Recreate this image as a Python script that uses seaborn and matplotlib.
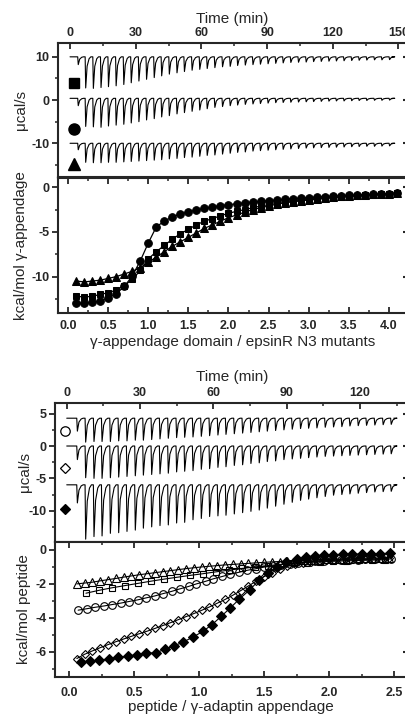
import numpy as np
import matplotlib
matplotlib.use('Agg')
import matplotlib.pyplot as plt
from matplotlib.ticker import MultipleLocator
import seaborn as sns

sns.set_style('ticks')
plt.rcParams['font.family'] = ['Liberation Sans', 'DejaVu Sans']
plt.rcParams['axes.unicode_minus'] = False

# ---------------- raw ITC traces, epsinR N3 mutants (panel A) ----------------
t_inj_a = [3.5, 6.9, 10.4, 13.9, 17.3, 20.8, 24.3, 27.7, 31.2, 34.7, 38.2, 41.6,
           45.1, 48.6, 52.0, 55.5, 59.0, 62.4, 65.9, 69.4, 72.9, 76.3, 79.8, 83.3,
           86.7, 90.2, 93.7, 97.1, 100.6, 104.1, 107.6, 111.0, 114.5, 118.0, 121.4,
           124.9, 128.4, 131.8, 135.3, 138.8, 142.2, 145.7]
t_end_a = 147.0
base_sq, base_ci, base_tr = 10.0, 0.4, -10.0
depth_sq = [1.8, 7.2, 7.3, 7.1, 6.9, 6.7, 6.4, 6.0, 5.6, 5.2, 4.8, 4.4, 4.0, 3.7,
            3.4, 3.1, 2.9, 2.7, 2.5, 2.3, 2.2, 2.0, 1.9, 1.8, 1.7, 1.6, 1.5, 1.4,
            1.3, 1.25, 1.2, 1.1, 1.05, 1.0, 0.95, 0.9, 0.85, 0.8, 0.75, 0.7, 0.7, 0.65]
depth_ci = [1.7, 6.5, 6.6, 6.7, 6.4, 6.2, 6.0, 5.7, 5.4, 5.0, 4.7, 4.3, 4.0, 3.6,
            3.3, 3.0, 2.7, 2.4, 2.1, 1.9, 1.7, 1.55, 1.4, 1.3, 1.2, 1.1, 1.0, 0.95,
            0.9, 0.85, 0.8, 0.75, 0.7, 0.65, 0.6, 0.6, 0.55, 0.5, 0.5, 0.45, 0.45, 0.4]
depth_tr = [1.5, 4.4, 4.5, 4.5, 4.4, 4.4, 4.3, 4.2, 4.1, 4.0, 3.9, 3.8, 3.6, 3.5,
            3.3, 3.2, 3.0, 2.8, 2.7, 2.5, 2.3, 2.1, 2.0, 1.8, 1.7, 1.6, 1.5, 1.4,
            1.3, 1.2, 1.1, 1.05, 1.0, 0.95, 0.9, 0.85, 0.8, 0.75, 0.7, 0.7, 0.65, 0.6]
key_t_a = 1.7
key_y_a = [3.85, -6.8, -14.8]

# ---------------- isotherms, epsinR N3 mutants (panel B) ----------------
ratio_b = [0.1, 0.2, 0.3, 0.4, 0.5, 0.6, 0.7, 0.8, 0.9, 1.0, 1.1, 1.2, 1.3, 1.4,
           1.5, 1.6, 1.7, 1.8, 1.9, 2.0, 2.1, 2.2, 2.3, 2.4, 2.5, 2.6, 2.7, 2.8,
           2.9, 3.0, 3.1, 3.2, 3.3, 3.4, 3.5, 3.6, 3.7, 3.8, 3.9, 4.0, 4.1]
dh_circle = [-13.0, -13.0, -12.9, -12.7, -12.4, -11.9, -11.1, -9.9, -8.2, -6.2,
             -4.4, -3.8, -3.3, -3.0, -2.75, -2.55, -2.35, -2.2, -2.05, -1.95, -1.85,
             -1.75, -1.65, -1.58, -1.5, -1.42, -1.35, -1.28, -1.22, -1.16, -1.1,
             -1.05, -1.0, -0.95, -0.9, -0.86, -0.82, -0.78, -0.75, -0.72, -0.68]
dh_square = [-12.2, -12.3, -12.2, -12.0, -11.8, -11.5, -11.0, -10.3, -9.3, -8.0,
             -7.2, -6.5, -5.8, -5.2, -4.7, -4.2, -3.8, -3.5, -3.2, -2.9, -2.7,
             -2.5, -2.3, -2.1, -1.95, -1.82, -1.7, -1.6, -1.5, -1.4, -1.3, -1.22,
             -1.14, -1.06, -1.0, -0.94, -0.88, -0.83, -0.78, -0.73, -0.68]
dh_triangle = [-10.5, -10.6, -10.5, -10.4, -10.2, -10.0, -9.7, -9.4, -9.0, -8.4,
               -7.8, -7.2, -6.6, -6.1, -5.6, -5.1, -4.6, -4.2, -3.8, -3.4, -3.1,
               -2.8, -2.5, -2.3, -2.1, -1.9, -1.75, -1.6, -1.5, -1.4, -1.3, -1.2,
               -1.1, -1.02, -0.96, -0.9, -0.85, -0.8, -0.75, -0.7, -0.62]

# ---------------- raw ITC traces, peptides (panel C) ----------------
t_inj_c = [4.1, 7.5, 10.9, 14.2, 17.6, 21.0, 24.4, 27.8, 31.1, 34.5, 37.9, 41.3,
           44.7, 48.0, 51.4, 54.8, 58.2, 61.6, 64.9, 68.3, 71.7, 75.1, 78.5, 81.8,
           85.2, 88.6, 92.0, 95.4, 98.7, 102.1, 105.5, 108.9, 112.3, 115.6, 119.0,
           122.4, 125.8, 129.2, 132.5]
t_end_c = 133.8
base_oc, base_od, base_fd = 4.3, 0.0, -6.0
depth_oc = [2.0, 3.7, 3.6, 3.6, 3.6, 3.5, 3.5, 3.4, 3.4, 3.3, 3.2, 3.1, 3.0, 2.95,
            2.9, 2.8, 2.7, 2.6, 2.5, 2.4, 2.3, 2.2, 2.1, 2.0, 1.9, 1.8, 1.7, 1.6,
            1.55, 1.5, 1.4, 1.35, 1.3, 1.2, 1.15, 1.1, 1.05, 1.0, 0.95]
depth_od = [2.1, 4.9, 5.0, 5.0, 4.9, 4.8, 4.7, 4.6, 4.5, 4.4, 4.3, 4.2, 4.0, 3.9,
            3.8, 3.6, 3.5, 3.3, 3.2, 3.0, 2.9, 2.7, 2.6, 2.4, 2.3, 2.1, 2.0, 1.9,
            1.8, 1.7, 1.6, 1.55, 1.5, 1.45, 1.4, 1.35, 1.3, 1.25, 1.2]
depth_fd = [2.8, 8.4, 8.0, 7.9, 7.5, 7.4, 7.2, 7.0, 6.7, 6.5, 6.3, 6.2, 5.9, 5.8,
            5.4, 5.2, 4.9, 4.8, 4.7, 4.5, 4.3, 4.1, 3.9, 3.6, 3.3, 3.0, 2.7, 2.4,
            2.2, 2.0, 1.8, 1.6, 1.5, 1.4, 1.3, 1.2, 1.1, 1.05, 1.0]
key_t_c = -0.7
key_y_c = [2.36, -3.45, -9.8]

# ---------------- isotherms, peptides (panel D) ----------------
ratio_fine = [0.06, 0.12, 0.18, 0.24, 0.30, 0.36, 0.42, 0.48, 0.54, 0.60, 0.66,
              0.72, 0.78, 0.84, 0.90, 0.96, 1.02, 1.08, 1.14, 1.20, 1.26, 1.32,
              1.38, 1.44, 1.50, 1.56, 1.62, 1.68, 1.74, 1.80, 1.86, 1.92, 1.98,
              2.04, 2.10, 2.16, 2.22, 2.28, 2.34, 2.40, 2.46]
dh_open_tri = [-2.00, -1.95, -1.90, -1.82, -1.75, -1.68, -1.60, -1.53, -1.46,
               -1.40, -1.34, -1.28, -1.22, -1.16, -1.10, -1.05, -1.00, -0.96,
               -0.92, -0.88, -0.85, -0.82, -0.79, -0.76, -0.73, -0.70, -0.68,
               -0.66, -0.64, -0.62, -0.60, -0.58, -0.56, -0.55, -0.53, -0.52,
               -0.50, -0.49, -0.48, -0.47, -0.46]
dh_open_dia = [-6.40, -6.15, -5.95, -5.76, -5.58, -5.41, -5.25, -5.09, -4.94,
               -4.79, -4.63, -4.46, -4.29, -4.11, -3.93, -3.75, -3.56, -3.36,
               -3.14, -2.92, -2.67, -2.40, -2.12, -1.84, -1.57, -1.33, -1.13,
               -0.97, -0.85, -0.76, -0.70, -0.65, -0.62, -0.59, -0.57, -0.55,
               -0.54, -0.53, -0.52, -0.51, -0.50]
ratio_sq = [0.13, 0.23, 0.33, 0.43, 0.53, 0.63, 0.73, 0.83, 0.93, 1.03, 1.13, 1.23,
            1.33, 1.43, 1.53, 1.63, 1.73, 1.83, 1.93, 2.03, 2.13, 2.23, 2.33, 2.43]
dh_open_sq = [-2.55, -2.38, -2.23, -2.10, -1.97, -1.84, -1.72, -1.61, -1.50, -1.40,
              -1.29, -1.19, -1.09, -1.00, -0.92, -0.85, -0.79, -0.74, -0.70, -0.67,
              -0.64, -0.62, -0.60, -0.58]
ratio_ci = [0.07, 0.14, 0.20, 0.27, 0.33, 0.40, 0.46, 0.53, 0.59, 0.66, 0.72, 0.79,
            0.85, 0.92, 0.98, 1.05, 1.11, 1.18, 1.24, 1.31, 1.37, 1.44, 1.50, 1.57,
            1.63, 1.70, 1.76, 1.83, 1.89, 1.96, 2.02, 2.09, 2.15, 2.22, 2.28, 2.35,
            2.41, 2.48]
dh_open_ci = [-3.55, -3.46, -3.38, -3.30, -3.22, -3.13, -3.04, -2.94, -2.83, -2.71,
              -2.58, -2.44, -2.30, -2.15, -2.00, -1.85, -1.70, -1.56, -1.43, -1.31,
              -1.20, -1.10, -1.01, -0.93, -0.86, -0.80, -0.75, -0.71, -0.67, -0.64,
              -0.62, -0.60, -0.58, -0.57, -0.56, -0.55, -0.54, -0.53]
ratio_fd = [0.09, 0.16, 0.23, 0.31, 0.38, 0.45, 0.52, 0.59, 0.67, 0.74, 0.81, 0.88,
            0.95, 1.03, 1.10, 1.17, 1.24, 1.31, 1.39, 1.46, 1.53, 1.60, 1.67, 1.75,
            1.82, 1.89, 1.96, 2.03, 2.11, 2.18, 2.25, 2.32, 2.39, 2.47]
dh_fill_dia = [-6.60, -6.55, -6.50, -6.42, -6.33, -6.25, -6.18, -6.10, -6.05,
               -5.85, -5.65, -5.42, -5.15, -4.80, -4.40, -3.92, -3.42, -2.90, -2.35,
               -1.80, -1.38, -1.02, -0.72, -0.52, -0.42, -0.34, -0.30, -0.27, -0.26,
               -0.25, -0.24, -0.22, -0.21, -0.20]


def thermogram(times, depths, base, t_end):
    # one sharp exothermic dip per injection, relaxing back to baseline
    xs, ys = [0.0], [base]
    for t, d in zip(times, depths):
        xs += [t, t + 0.25, t + 0.9, t + 1.8, t + 2.6]
        ys += [base, base - d, base - 0.3 * d, base - 0.06 * d, base]
    xs.append(t_end)
    ys.append(base)
    return xs, ys


def style_axes(ax, xmaj, xmin, ymaj, ymin, top_labels):
    for s in ax.spines.values():
        s.set_linewidth(1.5)
    ax.xaxis.set_major_locator(MultipleLocator(xmaj))
    ax.xaxis.set_minor_locator(MultipleLocator(xmin))
    ax.yaxis.set_major_locator(MultipleLocator(ymaj))
    ax.yaxis.set_minor_locator(MultipleLocator(ymin))
    if top_labels:
        ax.tick_params(axis='x', which='both', direction='in', top=True, bottom=False,
                       labeltop=True, labelbottom=False, pad=3)
    else:
        ax.tick_params(axis='x', which='both', direction='in', top=True, bottom=True,
                       labeltop=False, labelbottom=True, pad=5)
    ax.tick_params(axis='y', which='both', direction='out', left=True, right=False, pad=2)
    ax.tick_params(which='major', length=4, width=1.3, labelsize=9)
    ax.tick_params(which='minor', length=2.5, width=1.1)
    for lab in ax.get_xticklabels() + ax.get_yticklabels():
        lab.set_fontweight('bold')
    sec = ax.secondary_yaxis('right')
    sec.yaxis.set_major_locator(MultipleLocator(ymaj))
    sec.tick_params(direction='in', length=3, width=1.5, labelright=False)
    sec.spines['right'].set_linewidth(1.5)


fig = plt.figure(figsize=(4.05, 7.2), dpi=100)
W, H = 405.0, 720.0


def add_ax(l, t, r, b):
    return fig.add_axes([l / W, 1 - b / H, (r - l) / W, (b - t) / H])


axA = add_ax(58, 43, 407, 177)
axB = add_ax(58, 178, 407, 313)
axC = add_ax(55, 403, 407, 542)
axD = add_ax(55, 542, 407, 677)

# panel A
for depths, base in [(depth_sq, base_sq), (depth_ci, base_ci), (depth_tr, base_tr)]:
    xs, ys = thermogram(t_inj_a, depths, base, t_end_a)
    sns.lineplot(x=xs, y=ys, sort=False, estimator=None, color='black', lw=0.8, ax=axA)
for m, y, ms in zip(['s', 'o', '^'], key_y_a, [7.5, 8, 8.5]):
    axA.plot([key_t_a], [y], marker=m, ms=ms, color='black', ls='none')
axA.set_xlim(-5.5, 153.9)
axA.set_ylim(-17.8, 13.2)
style_axes(axA, 30, 15, 10, 5, True)
axA.set_ylabel('μcal/s', fontsize=11)
axA.yaxis.set_label_coords(-0.086, 0.5)

# panel B
for y, m, ms in [(dh_triangle, '^', 5.5), (dh_square, 's', 4.8), (dh_circle, 'o', 5.5)]:
    sns.lineplot(x=ratio_b, y=y, color='black', lw=0.9, marker=m, markersize=ms,
                 markerfacecolor='black', markeredgecolor='black', ax=axB)
axB.set_xlim(-0.13, 4.23)
axB.set_ylim(-14.08, 1.04)
style_axes(axB, 0.5, 0.25, 5, 2.5, False)
axB.set_ylabel('kcal/mol γ-appendage', fontsize=11)
axB.yaxis.set_label_coords(-0.086, 0.5)
axB.set_xlabel('γ-appendage domain / epsinR N3 mutants', fontsize=11, labelpad=2)

# panel C
for depths, base in [(depth_oc, base_oc), (depth_od, base_od), (depth_fd, base_fd)]:
    xs, ys = thermogram(t_inj_c, depths, base, t_end_c)
    sns.lineplot(x=xs, y=ys, sort=False, estimator=None, color='black', lw=0.8, ax=axC)
for m, y, fc in zip(['o', 'D', 'D'], key_y_c, ['none', 'none', 'black']):
    axC.plot([key_t_c], [y], marker=m, ms=6.8 if m == 'o' else 5.2, color='black',
             mfc=fc, mew=0.9, ls='none')
axC.set_xlim(-4.8, 139.2)
axC.set_ylim(-14.84, 6.65)
style_axes(axC, 30, 15, 5, 2.5, True)
axC.set_ylabel('μcal/s', fontsize=11)
axC.yaxis.set_label_coords(-0.066, 0.5)

# panel D
series_d = [(ratio_fine, dh_open_tri, '^', 'none', 5.5),
            (ratio_sq, dh_open_sq, 's', 'none', 4.8),
            (ratio_ci, dh_open_ci, 'o', 'none', 5.5),
            (ratio_fine, dh_open_dia, 'D', 'none', 4.3),
            (ratio_fd, dh_fill_dia, 'D', 'black', 5.0)]
for x, y, m, fc, ms in series_d:
    sns.lineplot(x=x, y=y, color='black', lw=0.8, marker=m, markersize=ms,
                 markerfacecolor=fc, markeredgecolor='black', markeredgewidth=0.8, ax=axD)
axD.set_xlim(-0.108, 2.6)
axD.set_ylim(-7.49, 0.47)
style_axes(axD, 0.5, 0.25, 2, 1, False)
axD.tick_params(axis='x', pad=7)
axD.set_ylabel('kcal/mol peptide', fontsize=11)
axD.yaxis.set_label_coords(-0.068, 0.5)
axD.set_xlabel('peptide / γ-adaptin appendage', fontsize=11, labelpad=1)

fig.text(232 / W, 1 - 18.5 / H, 'Time (min)', ha='center', va='center', fontsize=11)
fig.text(232 / W, 1 - 377 / H, 'Time (min)', ha='center', va='center', fontsize=11)

fig.savefig('out.png', dpi=100)
